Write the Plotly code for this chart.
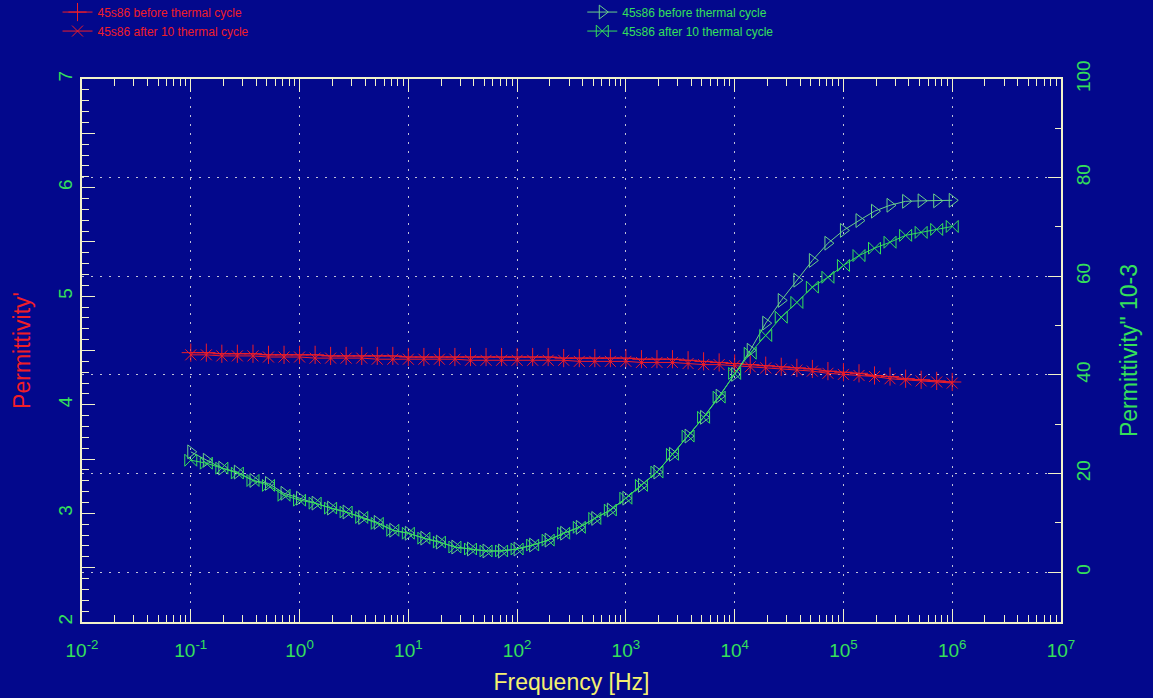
import plotly.graph_objects as go

# frequency points, 7 per decade, 0.1 Hz .. 1 MHz
freq = [0.1, 0.139, 0.193, 0.268, 0.373, 0.518, 0.720,
        1, 1.39, 1.93, 2.68, 3.73, 5.18, 7.20,
        10, 13.9, 19.3, 26.8, 37.3, 51.8, 72.0,
        100, 139, 193, 268, 373, 518, 720,
        1e3, 1.39e3, 1.93e3, 2.68e3, 3.73e3, 5.18e3, 7.20e3,
        1e4, 1.39e4, 1.93e4, 2.68e4, 3.73e4, 5.18e4, 7.20e4,
        1e5, 1.39e5, 1.93e5, 2.68e5, 3.73e5, 5.18e5, 7.20e5,
        1e6]

# Permittivity' (left axis)
eps_before = [4.48, 4.48, 4.47, 4.47, 4.47, 4.46, 4.46,
              4.46, 4.46, 4.45, 4.45, 4.45, 4.45, 4.45,
              4.44, 4.44, 4.44, 4.44, 4.44, 4.44, 4.44,
              4.44, 4.44, 4.44, 4.43, 4.43, 4.43, 4.43,
              4.43, 4.42, 4.42, 4.42, 4.41, 4.40, 4.39,
              4.38, 4.37, 4.36, 4.35, 4.34, 4.33, 4.31,
              4.30, 4.29, 4.27, 4.26, 4.24, 4.23, 4.22,
              4.21]
eps_after = [4.46, 4.46, 4.45, 4.45, 4.45, 4.44, 4.44,
             4.44, 4.43, 4.43, 4.43, 4.43, 4.42, 4.42,
             4.42, 4.42, 4.42, 4.42, 4.41, 4.41, 4.41,
             4.41, 4.41, 4.41, 4.41, 4.40, 4.40, 4.40,
             4.40, 4.39, 4.39, 4.39, 4.38, 4.37, 4.37,
             4.36, 4.35, 4.34, 4.33, 4.32, 4.31, 4.29,
             4.28, 4.27, 4.26, 4.24, 4.23, 4.22, 4.21,
             4.20]

# Permittivity'' x 10^-3 (right axis)
loss_before = [24.4, 22.7, 21.1, 20.3, 18.6, 18.0, 16.0,
               15.0, 14.0, 13.0, 12.2, 11.1, 10.1, 8.5,
               7.9, 6.9, 6.1, 5.1, 4.7, 4.3, 4.3,
               4.7, 5.5, 6.5, 7.9, 9.1, 10.9, 12.6,
               15.0, 17.6, 20.3, 23.9, 27.6, 31.4, 35.7,
               40.1, 45.0, 50.5, 55.1, 59.2, 63.2, 66.7,
               69.3, 71.3, 73.2, 74.4, 75.2, 75.3, 75.3,
               75.4]
loss_after = [22.7, 22.1, 21.1, 20.1, 18.6, 17.6, 15.6,
              14.6, 14.0, 13.0, 12.2, 11.1, 9.9, 8.5,
              7.9, 6.9, 6.1, 5.1, 4.7, 4.3, 4.3,
              4.7, 5.5, 6.5, 7.9, 9.1, 10.9, 12.6,
              15.0, 17.6, 20.3, 23.9, 27.6, 31.4, 35.5,
              40.3, 44.4, 48.0, 51.7, 54.7, 57.8, 59.8,
              62.2, 64.2, 65.7, 66.9, 68.3, 68.9, 69.5,
              70.1]

x_tickvals = [1e-2, 1e-1, 1, 10, 100, 1e3, 1e4, 1e5, 1e6, 1e7]
x_ticktext = ["10<sup>-2</sup>", "10<sup>-1</sup>", "10<sup>0</sup>", "10<sup>1</sup>",
              "10<sup>2</sup>", "10<sup>3</sup>", "10<sup>4</sup>", "10<sup>5</sup>",
              "10<sup>6</sup>", "10<sup>7</sup>"]
y1_tickvals = [2, 2.5, 3, 3.5, 4, 4.5, 5, 5.5, 6, 6.5, 7]
y1_ticktext = ["2", "", "3", "", "4", "", "5", "", "6", "", "7"]
y2_tickvals = [0, 20, 40, 60, 80, 100]

BG = "#03088C"
RED = "#F01E28"
GREEN = "#35E05A"
PALEGREEN = "#6AD08A"
AXIS = "#F2F2C8"
GRID = "rgba(215,215,225,0.9)"
FONT = "Liberation Sans, Arial, sans-serif"

fig = go.Figure()
fig.add_trace(go.Scatter(x=freq, y=eps_before, mode='lines+markers',
                         name='45s86 before thermal cycle', legend='legend',
                         line=dict(color=RED, width=1),
                         marker=dict(symbol='cross-thin-open', size=13,
                                     line=dict(color=RED, width=1))))
fig.add_trace(go.Scatter(x=freq, y=eps_after, mode='lines+markers',
                         name='45s86 after 10 thermal cycle', legend='legend',
                         line=dict(color=RED, width=1),
                         marker=dict(symbol='x-thin-open', size=11,
                                     line=dict(color=RED, width=1))))
fig.add_trace(go.Scatter(x=freq, y=loss_before, mode='lines+markers', yaxis='y2',
                         name='45s86 before thermal cycle', legend='legend2',
                         line=dict(color=PALEGREEN, width=1),
                         marker=dict(symbol='triangle-right-open', size=12,
                                     line=dict(color=PALEGREEN, width=1))))
fig.add_trace(go.Scatter(x=freq, y=loss_after, mode='lines+markers', yaxis='y2',
                         name='45s86 after 10 thermal cycle', legend='legend2',
                         line=dict(color=GREEN, width=1),
                         marker=dict(symbol='bowtie-open', size=12,
                                     line=dict(color=GREEN, width=1))))

fig.update_layout(
    width=1153, height=698,
    margin=dict(l=82, r=92, t=79, b=76, autoexpand=False),
    paper_bgcolor=BG, plot_bgcolor=BG,
    font=dict(family=FONT, color=GREEN),
    xaxis=dict(type='log', range=[-2, 7],
               tickvals=x_tickvals, ticktext=x_ticktext, tickangle=0,
               tickfont=dict(size=19, color=GREEN), ticklabelstandoff=10,
               ticks='inside', ticklen=13, tickcolor=AXIS, tickwidth=1,
               minor=dict(ticks='inside', ticklen=7, tickcolor=AXIS, dtick='D1', showgrid=False),
               showline=True, linecolor=AXIS, linewidth=2, mirror='ticks',
               showgrid=True, gridcolor=GRID, griddash='2px,7px', gridwidth=1,
               zeroline=False,
               title=dict(text='Frequency [Hz]', font=dict(size=23, color='#F4F070'), standoff=14)),
    yaxis=dict(range=[2, 7], tickvals=y1_tickvals, ticktext=y1_ticktext,
               tickangle=-90, tickfont=dict(size=19, color=GREEN),
               ticks='inside', ticklen=13, tickcolor=AXIS,
               minor=dict(ticks='inside', ticklen=7, tickcolor=AXIS, dtick=0.1, showgrid=False),
               showline=True, linecolor=AXIS, linewidth=2,
               showgrid=False, zeroline=False,
               title=dict(text="Permittivity'", font=dict(size=23, color=RED), standoff=18)),
    yaxis2=dict(range=[-10.1, 100], overlaying='y', side='right',
                tickvals=y2_tickvals, tickangle=-90,
                tickfont=dict(size=19, color=GREEN), ticklabelstandoff=4,
                ticks='inside', ticklen=13, tickcolor=AXIS,
                minor=dict(ticks='inside', ticklen=6, tickcolor=AXIS, dtick=10, showgrid=False),
                showline=True, linecolor=AXIS, linewidth=2,
                showgrid=True, gridcolor=GRID, griddash='2px,7px', gridwidth=1,
                zeroline=False,
                title=dict(text='Permittivity" 10-3', font=dict(size=23, color=GREEN), standoff=28)),
    legend=dict(x=-0.025, y=1.15, xanchor='left', yanchor='top',
                bgcolor='rgba(0,0,0,0)',
                font=dict(size=12, color=RED), tracegroupgap=0,
                traceorder='normal'),
    legend2=dict(x=0.511, y=1.15, xanchor='left', yanchor='top',
                 bgcolor='rgba(0,0,0,0)',
                 font=dict(size=12, color=GREEN), tracegroupgap=0,
                 traceorder='normal'),
)

fig.write_html("out.html", config={"displayModeBar": False},
               post_script="document.body.style.margin='0';")
